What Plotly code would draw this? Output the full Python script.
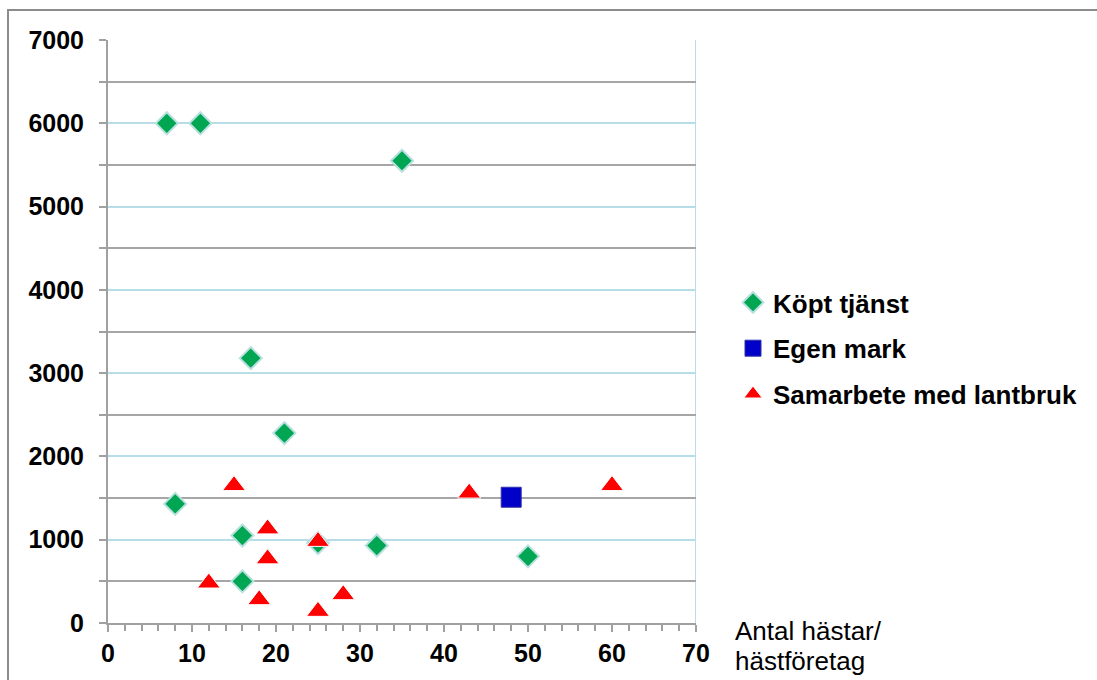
import plotly.graph_objects as go

kop_x = [7, 11, 35, 17, 21, 8, 16, 16, 32, 50, 25]
kop_y = [6000, 6000, 5550, 3180, 2280, 1430, 1050, 500, 930, 800, 960]

egen_x = [48]
egen_y = [1510]

sam_x = [15, 12, 19, 19, 18, 25, 25, 28, 43, 60]
sam_y = [1650, 480, 1130, 770, 280, 980, 140, 340, 1560, 1650]

x_tick_vals = [0, 10, 20, 30, 40, 50, 60, 70]
y_tick_vals = [0, 1000, 2000, 3000, 4000, 5000, 6000, 7000]

title_lines = ["Antal hästar/", "hästföretag"]

W, H = 1097, 680
L, R, T, B = 108, 696, 40, 623

fig = go.Figure()
fig.add_trace(go.Scatter(
    x=kop_x, y=kop_y, mode="markers", name="Köpt tjänst", legendgroup="a",
    marker=dict(symbol="diamond", size=17, color="#00a651",
                line=dict(color="#b9e0e0", width=2)),
))
fig.add_trace(go.Scatter(
    x=egen_x, y=egen_y, mode="markers", name="Egen mark", legendgroup="b",
    marker=dict(symbol="square", size=20, color="#0000c8",
                line=dict(color="#3333aa", width=1)),
))
fig.add_trace(go.Scatter(
    x=sam_x, y=sam_y, mode="markers", name="Samarbete med lantbruk", legendgroup="c",
    marker=dict(symbol="triangle-up", size=20, color="#ff0000",
                line=dict(color="#ffffff", width=1)),
))

pw = R - L
ph = B - T
fig.add_shape(type="line", xref="x", yref="y", x0=70, x1=70, y0=0, y1=7000,
              line=dict(color="#b7dde8", width=2), layer="below")
fig.add_shape(type="rect", xref="paper", yref="paper",
              x0=(8 - L) / pw, x1=(W + 5 - L) / pw,
              y0=(B - (H + 5)) / ph, y1=(B - 10) / ph,
              line=dict(color="#8c8c8c", width=2), layer="below")

for i, line in enumerate(title_lines):
    fig.add_annotation(
        xref="paper", yref="paper", x=(733 - L) / pw, y=(B - (631 + 30 * i)) / ph,
        xanchor="left", yanchor="middle", align="left", showarrow=False,
        text=line,
        font=dict(family="Liberation Sans, Arial", size=26, color="#000000"),
    )

fig.update_layout(
    width=W, height=H,
    margin=dict(l=L, r=W - R, t=T, b=H - B, pad=0),
    paper_bgcolor="white", plot_bgcolor="white",
    font=dict(family="Liberation Sans, Arial", color="#000000"),
    showlegend=True,
    legend=dict(x=(733 - L) / pw, y=(B - 279) / ph, xanchor="left", yanchor="top",
                font=dict(size=26, family="Liberation Sans, Arial", weight="bold"),
                itemsizing="trace", traceorder="grouped", tracegroupgap=9,
                bgcolor="rgba(0,0,0,0)"),
    xaxis=dict(range=[0, 70], tickvals=x_tick_vals, ticktext=[str(v) for v in x_tick_vals],
               showgrid=False, zeroline=False, showline=True, linecolor="#a0a0a0", linewidth=2,
               ticks="outside", ticklen=7, tickcolor="#a0a0a0", tickwidth=2,
               minor=dict(dtick=2, ticks="outside", ticklen=6, tickcolor="#a0a0a0", tickwidth=2, showgrid=False),
               tickfont=dict(size=25, weight="bold")),
    yaxis=dict(range=[0, 7000], tickvals=y_tick_vals, ticktext=[str(v) for v in y_tick_vals],
               showgrid=True, gridcolor="#b7dde8", gridwidth=2,
               zeroline=False, showline=True, linecolor="#a0a0a0", linewidth=2,
               ticks="outside", ticklen=7, tickcolor="#a0a0a0", tickwidth=2,
               minor=dict(dtick=500, ticks="outside", ticklen=7, tickcolor="#a0a0a0", tickwidth=2,
                          showgrid=True, gridcolor="#a6a6a6", gridwidth=2),
               tickfont=dict(size=25, weight="bold"), ticklabelstandoff=10),
)

fig.write_html("out.html")
